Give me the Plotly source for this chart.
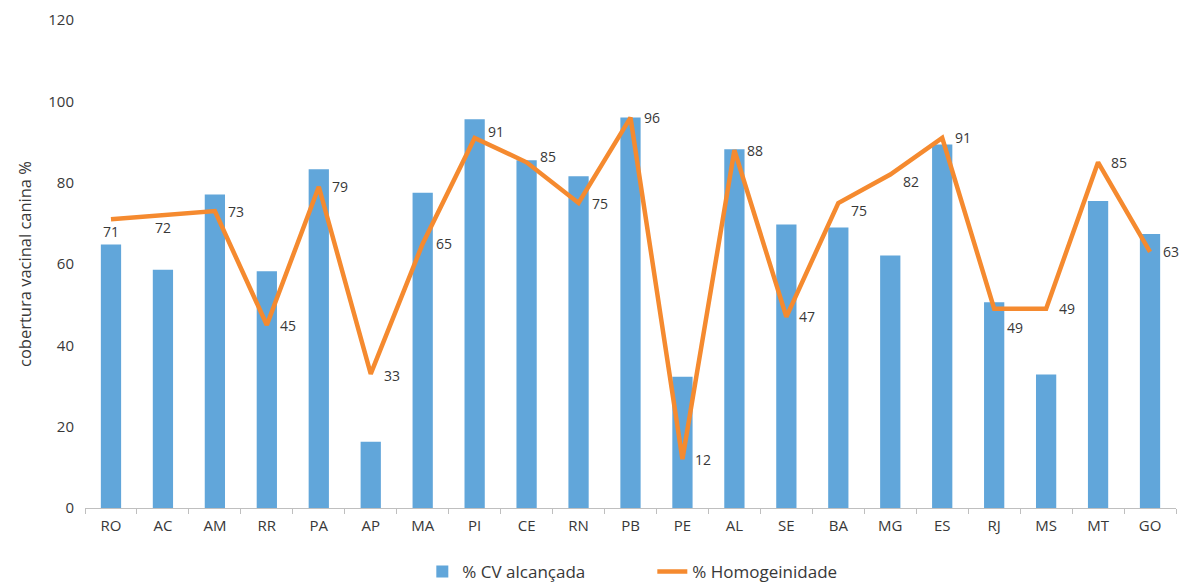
import plotly.graph_objects as go

# Unidades federativas
estados = ["RO", "AC", "AM", "RR", "PA", "AP", "MA", "PI", "CE", "RN", "PB",
           "PE", "AL", "SE", "BA", "MG", "ES", "RJ", "MS", "MT", "GO"]

# % de cobertura vacinal alcançada
cv_alcancada = [64.8, 58.6, 77.1, 58.2, 83.3, 16.3, 77.5, 95.6, 85.5, 81.6, 96.0,
                32.3, 88.2, 69.7, 69.0, 62.1, 89.4, 50.6, 32.8, 75.5, 67.4]

# % de homogeneidade
homogeneidade = [71, 72, 73, 45, 79, 33, 65, 91, 85, 75, 96,
                 12, 88, 47, 75, 82, 91, 49, 49, 85, 63]

AZUL = "#61A6DA"
LARANJA = "#F58A2F"
TEXTO = "#383838"
FONTE = "Open Sans"

# deslocamento (px) dos rótulos da linha: ao lado direito, salvo exceções
rotulo_abaixo = {"RO", "AC"}
ajuste_vertical = {"PI": -6, "CE": -6, "BA": 7, "MG": 7, "RJ": 19, "AP": 2}

fig = go.Figure()

fig.add_trace(go.Bar(
    x=estados, y=cv_alcancada, name="% CV alcançada",
    marker=dict(color=AZUL, line=dict(width=0)),
))

fig.add_trace(go.Scatter(
    x=estados, y=homogeneidade, name="% Homogeinidade",
    mode="lines",
    line=dict(color=LARANJA, width=4.5),
))

anotacoes = []
for uf, v in zip(estados, homogeneidade):
    if uf in rotulo_abaixo:
        anotacoes.append(dict(x=uf, y=v, text=str(v), showarrow=False,
                              xanchor="center", yanchor="middle", yshift=-12))
    else:
        anotacoes.append(dict(x=uf, y=v, text=str(v), showarrow=False,
                              xanchor="left", yanchor="middle", xshift=11,
                              yshift=-ajuste_vertical.get(uf, 0)))
for a in anotacoes:
    a["font"] = dict(family=FONTE, size=14, color=TEXTO)

fig.update_layout(
    width=1179, height=586,
    margin=dict(l=85, r=3, t=20, b=78, autoexpand=False),
    paper_bgcolor="white", plot_bgcolor="white",
    bargap=0.61,
    font=dict(family=FONTE, size=15, color=TEXTO),
    showlegend=True,
    annotations=anotacoes,
    legend=dict(
        orientation="h", x=0.52, xanchor="center", y=-0.131, yanchor="middle",
        font=dict(family=FONTE, size=17, color=TEXTO),
        itemwidth=30, entrywidth=185, traceorder="normal",
    ),
    xaxis=dict(
        showgrid=False, showline=True, linecolor="#BFBFBF", linewidth=1,
        ticks="outside", ticklen=5, tickcolor="#BFBFBF", tickson="boundaries",
        tickfont=dict(family=FONTE, size=15, color=TEXTO),
        ticklabelstandoff=4,
        range=[-0.5, 20.5],
    ),
    yaxis=dict(
        range=[0, 120], dtick=20, showgrid=False, showline=False, zeroline=False,
        ticks="", ticklabelstandoff=10,
        tickfont=dict(family=FONTE, size=15, color=TEXTO),
        title=dict(text="cobertura vacinal canina %", standoff=12,
                   font=dict(family=FONTE, size=16.5, color=TEXTO)),
    ),
)

fig.write_html("out.html")
